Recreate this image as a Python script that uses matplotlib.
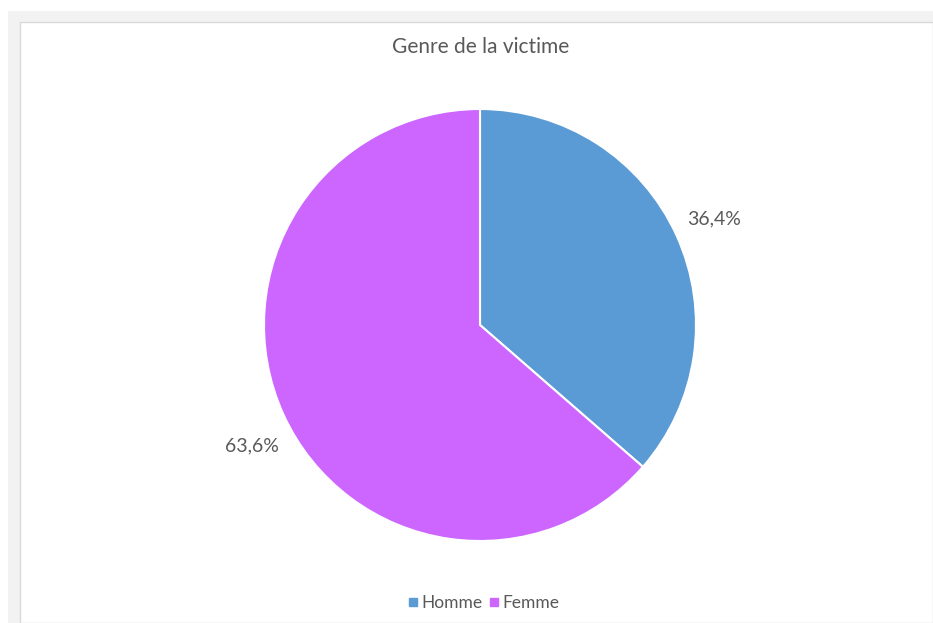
import matplotlib.pyplot as plt
import matplotlib.transforms as mtransforms
from matplotlib.patches import Rectangle
from matplotlib.lines import Line2D

labels = ['Homme', 'Femme']
values = [36.4, 63.6]
colors = ['#5B9BD5', '#CC66FF']

plt.rcParams['font.family'] = ['Lato', 'DejaVu Sans']

W, H = 933, 623
fig = plt.figure(figsize=(W / 100, H / 100), dpi=100)
fig.patch.set_facecolor('white')

# grey frame like the screenshot
def px(x, y, w, h):
    return (x / W, 1 - (y + h) / H, w / W, h / H)

x0, y0, w0, h0 = px(8, 11, W - 8, H - 11)
fig.patches.append(Rectangle((x0, y0), w0, h0, transform=fig.transFigure,
                             facecolor='#f2f2f2', edgecolor='none', zorder=-3))
x1, y1, w1, h1 = px(20, 22, W - 20, H - 22)
fig.patches.append(Rectangle((x1, y1), w1, h1, transform=fig.transFigure,
                             facecolor='white', edgecolor='#d9d9d9', linewidth=1, zorder=-2))

# pie axes: centre (480, 325), radius 216 px
r = 216
ax = fig.add_axes(px(480 - r, 325 - r, 2 * r, 2 * r))

wedges, texts, autotexts = ax.pie(
    values, colors=colors, startangle=90, counterclock=False, radius=1,
    wedgeprops=dict(edgecolor='white', linewidth=1.5),
    autopct=lambda p: f'{p:.1f}%'.replace('.', ','), pctdistance=1.19,
    textprops=dict(color='#595959', fontsize=14))
ax.set_xlim(-1, 1)
ax.set_ylim(-1, 1)
ax.set_aspect('equal')
ax.axis('off')

# excel puts the big slice's label a bit lower
autotexts[1].set_transform(mtransforms.offset_copy(ax.transData, fig=fig, x=4, y=-10, units='points'))

fig.text(481 / W, 1 - 47 / H, 'Genre de la victime', ha='center', va='center',
         fontsize=15, color='#595959')

handles = [Line2D([], [], marker='s', linestyle='', color=c, markersize=6) for c in colors]
fig.legend(handles, labels, loc='center', bbox_to_anchor=(482 / W, 1 - 603 / H),
           ncol=2, frameon=False, handletextpad=0.0, columnspacing=0.15,
           handlelength=1.0, fontsize=12.5, labelcolor='#595959')

fig.savefig('out.png', dpi=100)
